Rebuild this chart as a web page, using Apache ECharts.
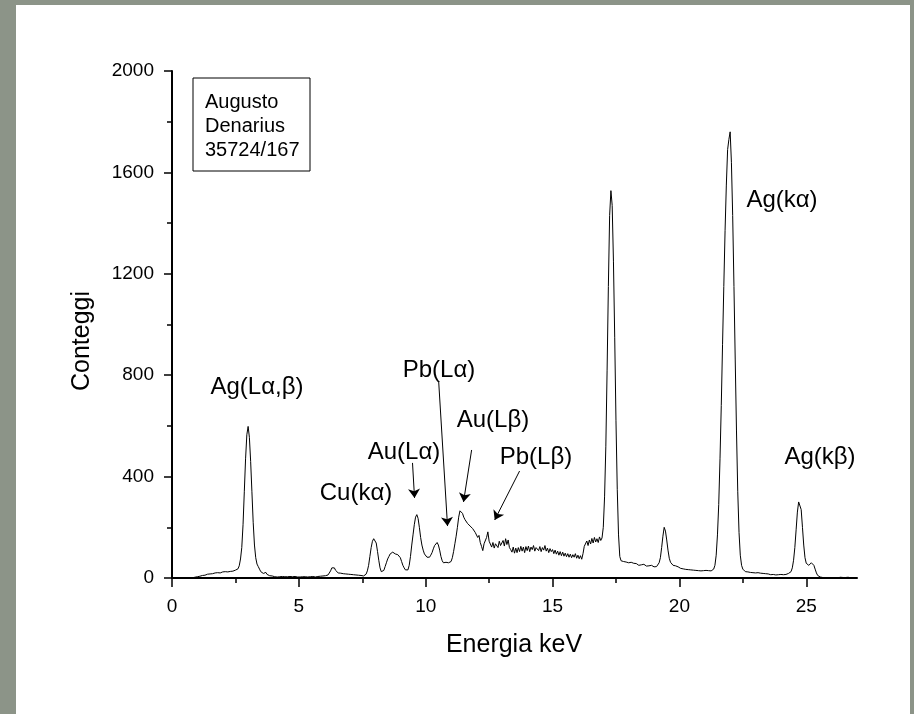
<!DOCTYPE html>
<html>
<head>
<meta charset="utf-8">
<script src="https://cdn.jsdelivr.net/npm/echarts@6/dist/echarts.min.js"></script>
<style>
html,body{margin:0;padding:0;}
#wrap{position:relative;width:914px;height:714px;background:#8c9488;}
#panel{position:absolute;left:16px;top:5px;width:894px;height:709px;background:#fff;}
#chart{position:absolute;left:0;top:0;width:914px;height:714px;}
</style>
</head>
<body>
<div id="wrap"><div id="panel"></div><div id="chart"></div></div>
<script>
// spectrum, one value every 0.05 keV starting at 0 keV
const channelWidth = 0.05
const counts = [
    0,0,0,0,0,0,0,0,0,0,0,0,0,0,0,0,1,2,3,4,
    5,6,7,9,10,12,11,13,15,14,16,18,17,19,20,18,21,22,20,23,
    24,22,25,27,24,28,26,29,27,30,31,33,36,48,75,120,210,340,470,565,
    598,555,460,340,220,130,80,55,45,35,25,20,18,24,22,14,10,9,7,8,
    6,5,7,4,6,5,5,6,4,5,7,5,4,6,5,5,4,6,5,4,
    5,4,6,5,4,5,6,4,5,5,4,6,5,4,5,6,5,7,6,8,
    8,9,10,12,18,28,40,47,40,30,24,20,18,19,16,17,15,16,14,15,
    13,14,12,13,11,12,10,11,9,10,9,8,10,15,28,50,85,120,145,155,
    152,138,105,70,40,25,22,30,45,60,75,85,95,100,102,98,95,97,92,88,
    80,65,50,40,32,28,32,50,85,130,170,210,240,250,235,200,160,130,110,95,
    88,82,78,82,90,100,115,128,135,140,130,110,85,68,60,55,62,56,60,54,
    65,80,105,135,165,200,240,265,272,255,240,230,225,215,220,205,200,195,188,180,
    175,160,168,140,125,108,135,128,160,182,145,138,122,140,118,135,142,120,145,128,
    135,148,126,155,132,150,120,112,102,122,98,118,100,120,104,125,106,122,100,124,
    108,126,104,122,112,128,106,120,126,108,124,104,120,110,128,106,118,100,116,104,
    112,96,110,94,106,90,104,88,102,86,98,84,96,82,94,80,92,82,96,78,
    90,76,88,74,96,125,132,146,128,150,134,156,138,160,142,155,140,162,148,158,
    200,320,520,820,1150,1430,1528,1470,1250,950,620,350,170,85,68,62,65,60,63,58,
    60,56,62,55,58,52,57,54,50,56,52,48,54,50,47,52,48,45,50,46,
    44,48,45,50,60,80,120,165,200,185,150,110,78,62,55,50,46,48,42,44,
    40,38,41,36,38,34,37,33,35,32,34,31,33,30,32,29,31,28,30,29,
    28,30,27,29,26,28,30,35,50,90,170,290,470,680,920,1150,1370,1550,1690,1730,
    1760,1640,1430,1150,860,580,340,180,90,50,35,28,25,22,24,20,22,19,21,18,
    20,18,21,17,19,16,18,15,17,14,16,15,13,16,14,15,12,14,13,15,
    14,16,13,15,14,16,18,20,25,40,70,120,190,260,300,305,270,200,130,80,
    58,55,50,55,60,58,50,35,20,10,6,4,3,2,3,2,1,2,1,2,
    2,1,3,1,2,1,2,3,1,2,1,2,1,3,2,1,2,1,2,1,
    1
]

const xMajor = [0, 5, 10, 15, 20, 25]
const xMinor = [2.5, 7.5, 12.5, 17.5, 22.5]
const yTicks = [0, 400, 800, 1200, 1600, 2000]

// arrows: [from, to] in keV / counts
const arrows = [
    [[9.48, 454], [9.56, 316]],
    [[10.51, 777], [10.86, 205]],
    [[11.81, 505], [11.49, 300]],
    [[13.70, 422], [12.72, 229]]
]

const peakLabels = ['Ag(Lα,β)', 'Cu(kα)', 'Au(Lα)', 'Pb(Lα)', 'Au(Lβ)', 'Pb(Lβ)', 'Ag(kα)', 'Ag(kβ)']
const peakLabelPos = [[257, 387], [356, 493], [404, 452], [439, 370], [493, 420], [536, 457], [782, 200], [820, 457]]
const boxLines = ['Augusto', 'Denarius', '35724/167']

const font = '"Liberation Sans", Arial, sans-serif'
const black = '#000'

let data = counts.map((c, i) => [+(i * channelWidth).toFixed(2), c])

let graphics = [
    {type: 'rect', shape: {x: 193, y: 78, width: 117, height: 93},
        style: {fill: '#fff', stroke: black, lineWidth: 1}},
    {type: 'text', x: 82, y: 341, rotation: Math.PI / 2,
        style: {text: 'Conteggi', fontSize: 25, fontFamily: font, fill: black, align: 'center', verticalAlign: 'middle'}},
    {type: 'text', x: 514, y: 645,
        style: {text: 'Energia keV', fontSize: 25, fontFamily: font, fill: black, align: 'center', verticalAlign: 'middle'}}
]
boxLines.forEach((t, i) => {
    graphics.push({type: 'text', x: 205, y: [102, 126, 150][i],
        style: {text: t, fontSize: 20, fontFamily: font, fill: black, align: 'left', verticalAlign: 'middle'}})
})
peakLabels.forEach((t, i) => {
    graphics.push({type: 'text', x: peakLabelPos[i][0], y: peakLabelPos[i][1],
        style: {text: t, fontSize: 24, fontFamily: font, fill: black, align: 'center', verticalAlign: 'middle'}})
})

let chart = echarts.init(document.getElementById('chart'))
chart.setOption({
    animation: false,
    backgroundColor: 'transparent',
    textStyle: {fontFamily: font},
    grid: {left: 172, top: 71, right: 57, bottom: 136},
    xAxis: [
        {
            type: 'value', min: 0, max: 27, interval: 5,
            axisLine: {show: true, lineStyle: {color: black, width: 2}},
            axisTick: {show: true, customValues: xMajor, length: 9, lineStyle: {color: black, width: 1.5}},
            axisLabel: {customValues: xMajor, color: black, fontSize: 19, margin: 19, fontFamily: font},
            splitLine: {show: false}
        },
        {
            type: 'value', min: 0, max: 27, position: 'bottom',
            axisLine: {show: false},
            axisTick: {show: true, customValues: xMinor, length: 5, lineStyle: {color: black, width: 1.5}},
            axisLabel: {show: false},
            splitLine: {show: false}
        }
    ],
    yAxis: {
        type: 'value', min: 0, max: 2000, interval: 400,
        axisLine: {show: true, lineStyle: {color: black, width: 2}},
        axisTick: {show: true, customValues: yTicks, length: 8, lineStyle: {color: black, width: 1.5}},
        minorTick: {show: true, splitNumber: 2, length: 5, lineStyle: {color: black, width: 1.5}},
        axisLabel: {color: black, fontSize: 19, margin: 18, fontFamily: font, formatter: v => String(v)},
        splitLine: {show: false}
    },
    series: [{
        type: 'line',
        data: data,
        showSymbol: false,
        symbol: 'none',
        lineStyle: {color: black, width: 1},
        markLine: {
            silent: true,
            symbol: ['none', 'arrow'],
            symbolSize: 9,
            label: {show: false},
            lineStyle: {color: black, width: 1, type: 'solid'},
            data: arrows.map(a => [{coord: a[0]}, {coord: a[1]}])
        }
    }],
    graphic: graphics
})
</script>
</body>
</html>
